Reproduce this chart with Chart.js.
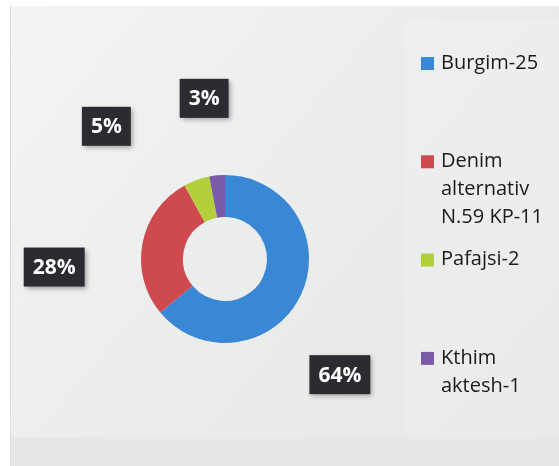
<!DOCTYPE html>
<html>
<head>
<meta charset="utf-8">
<script src="https://cdn.jsdelivr.net/npm/chart.js@4/dist/chart.umd.min.js"></script>
<style>
  html, body { margin: 0; padding: 0; background: #ffffff; }
  #wrap { position: relative; width: 559px; height: 466px; }
  canvas { display: block; }
</style>
</head>
<body>
<div id="wrap"><canvas id="c" width="559" height="466"></canvas></div>
<script>
// ---- data ----
const categories = [
  ['Burgim-25'],
  ['Denim', 'alternativ', 'N.59 KP-11'],
  ['Pafajsi-2'],
  ['Kthim', 'aktesh-1']
];
const shares = [64, 28, 5, 3];
const valueLabels = ['64%', '28%', '5%', '3%'];
const sliceColors = ['#3a88d5', '#cf4a4f', '#b4cf3c', '#7b5ba8'];

// ---- layout (not data) ----
const labelShiftDeg = [20, -13.5, -22, -2];
const labelDist = [163, 171, 178, 162];

const bgPlugin = {
  id: 'bg',
  beforeDraw(chart) {
    const ctx = chart.ctx;
    ctx.save();
    ctx.fillStyle = '#ffffff';
    ctx.fillRect(0, 0, 559, 466);
    const g = ctx.createLinearGradient(10, 6, 559, 466);
    g.addColorStop(0, '#f3f4f3');
    g.addColorStop(0.5, '#ebedec');
    g.addColorStop(1, '#e7e9e8');
    ctx.fillStyle = g;
    ctx.fillRect(10, 6, 549, 460);
    // subtle lighter legend panel
    ctx.fillStyle = 'rgba(255,255,255,0.1)';
    ctx.fillRect(405, 20, 154, 417);
    // bottom strip
    ctx.fillStyle = '#e6e8e7';
    ctx.fillRect(10, 437, 549, 29);
    ctx.strokeStyle = '#dadcdb';
    ctx.lineWidth = 1;
    ctx.beginPath();
    ctx.moveTo(10.5, 6); ctx.lineTo(10.5, 466);
    ctx.stroke();
    ctx.restore();
  }
};

const labelPlugin = {
  id: 'labels',
  afterDraw(chart) {
    const ctx = chart.ctx;
    const meta = chart.getDatasetMeta(0);
    ctx.save();
    ctx.font = 'bold 21px "Open Sans", sans-serif';
    ctx.textAlign = 'center';
    ctx.textBaseline = 'middle';
    meta.data.forEach((arc, i) => {
      const p = arc.getProps(['x', 'y', 'startAngle', 'endAngle'], true);
      const mid = (p.startAngle + p.endAngle) / 2 + labelShiftDeg[i] * Math.PI / 180;
      const cx = p.x + Math.cos(mid) * labelDist[i];
      const cy = p.y + Math.sin(mid) * labelDist[i];
      const text = valueLabels[i];
      const tw = ctx.measureText(text).width;
      const w = tw + 18, h = 39;
      ctx.save();
      ctx.shadowColor = 'rgba(0,0,0,0.35)';
      ctx.shadowBlur = 5;
      ctx.shadowOffsetX = 2;
      ctx.shadowOffsetY = 2;
      ctx.fillStyle = '#2b2c31';
      ctx.fillRect(cx - w / 2, cy - h / 2, w, h);
      ctx.restore();
      ctx.fillStyle = '#ffffff';
      ctx.fillText(text, cx, cy + 1);
    });

    // legend
    const legTop = 63, legStep = 98.3, lineH = 28;
    ctx.font = '20px "Open Sans", sans-serif';
    ctx.textAlign = 'left';
    ctx.textBaseline = 'middle';
    chart.data.labels.forEach((lines, i) => {
      const y0 = legTop + i * legStep;
      ctx.fillStyle = chart.data.datasets[0].backgroundColor[i];
      ctx.fillRect(421, y0 - 6, 13, 13);
      ctx.fillStyle = '#1a1a1a';
      lines.forEach((ln, k) => ctx.fillText(ln, 441, y0 + k * lineH));
    });
    ctx.restore();
  }
};

new Chart(document.getElementById('c'), {
  type: 'doughnut',
  data: {
    labels: categories,
    datasets: [{
      data: shares,
      backgroundColor: sliceColors,
      borderWidth: 0,
      hoverOffset: 0
    }]
  },
  options: {
    responsive: false,
    animation: false,
    cutout: '50%',
    layout: { padding: { left: 141, right: 250, top: 175, bottom: 123 } },
    plugins: {
      legend: { display: false },
      tooltip: { enabled: false }
    }
  },
  plugins: [bgPlugin, labelPlugin]
});
</script>
</body>
</html>
